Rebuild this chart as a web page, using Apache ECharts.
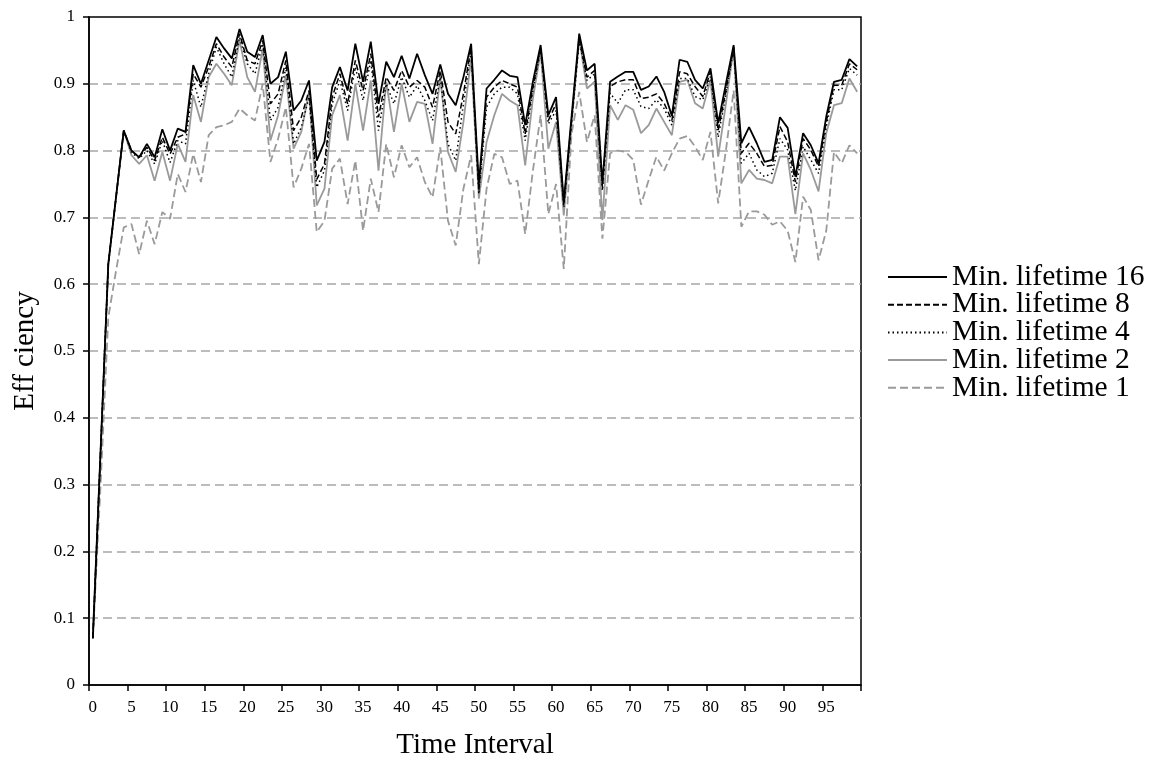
<!DOCTYPE html>
<html>
<head>
<meta charset="utf-8">
<script src="https://cdn.jsdelivr.net/npm/echarts@6/dist/echarts.min.js"></script>
<style>
html,body{margin:0;padding:0;background:#fff;}
#chart{width:1169px;height:766px;}
</style>
</head>
<body>
<div id="chart"></div>
<script>
var categories = ['0','1','2','3','4','5','6','7','8','9','10','11','12','13','14','15','16','17','18','19',
'20','21','22','23','24','25','26','27','28','29','30','31','32','33','34','35','36','37','38','39',
'40','41','42','43','44','45','46','47','48','49','50','51','52','53','54','55','56','57','58','59',
'60','61','62','63','64','65','66','67','68','69','70','71','72','73','74','75','76','77','78','79',
'80','81','82','83','84','85','86','87','88','89','90','91','92','93','94','95','96','97','98','99'];

var seriesNames = ['Min. lifetime 16','Min. lifetime 8','Min. lifetime 4','Min. lifetime 2','Min. lifetime 1'];

var life16 = [0.07,0.35,0.63,0.73,0.83,0.80,0.79,0.81,0.79,0.832,
0.80,0.833,0.828,0.928,0.90,0.935,0.97,0.953,0.938,0.982,
0.948,0.94,0.973,0.90,0.91,0.948,0.86,0.875,0.905,0.785,
0.813,0.895,0.925,0.89,0.96,0.903,0.963,0.87,0.933,0.91,
0.942,0.908,0.945,0.913,0.885,0.929,0.885,0.868,0.91,0.96,
0.75,0.893,0.906,0.92,0.912,0.91,0.838,0.903,0.958,0.853,
0.88,0.723,0.85,0.975,0.92,0.93,0.751,0.903,0.911,0.918,
0.918,0.891,0.896,0.911,0.888,0.852,0.936,0.933,0.906,0.893,
0.923,0.841,0.90,0.958,0.811,0.835,0.811,0.783,0.786,0.85,
0.834,0.761,0.826,0.808,0.781,0.851,0.903,0.906,0.937,0.926];

var life8 = [0.07,0.35,0.63,0.73,0.83,0.80,0.79,0.805,0.785,0.82,
0.795,0.82,0.825,0.915,0.895,0.925,0.96,0.94,0.925,0.975,
0.935,0.93,0.965,0.87,0.885,0.935,0.83,0.85,0.89,0.757,
0.78,0.88,0.915,0.87,0.935,0.89,0.945,0.85,0.91,0.89,
0.92,0.895,0.905,0.895,0.865,0.92,0.843,0.825,0.885,0.955,
0.74,0.88,0.895,0.905,0.90,0.895,0.825,0.895,0.955,0.845,
0.87,0.72,0.845,0.97,0.91,0.92,0.745,0.896,0.903,0.906,
0.906,0.878,0.88,0.885,0.871,0.845,0.918,0.915,0.896,0.881,
0.918,0.83,0.89,0.955,0.796,0.811,0.796,0.776,0.778,0.836,
0.813,0.753,0.818,0.801,0.776,0.843,0.898,0.898,0.93,0.921];

var life4 = [0.07,0.35,0.63,0.73,0.83,0.797,0.788,0.80,0.78,0.815,
0.782,0.815,0.81,0.905,0.865,0.915,0.955,0.93,0.91,0.97,
0.93,0.915,0.96,0.845,0.865,0.925,0.81,0.835,0.88,0.745,
0.77,0.87,0.905,0.86,0.925,0.875,0.935,0.83,0.90,0.87,
0.91,0.88,0.897,0.875,0.845,0.91,0.81,0.785,0.87,0.95,
0.735,0.865,0.885,0.895,0.895,0.885,0.815,0.89,0.95,0.84,
0.86,0.715,0.84,0.965,0.905,0.915,0.74,0.886,0.871,0.891,
0.891,0.866,0.863,0.876,0.863,0.838,0.908,0.908,0.881,0.876,
0.911,0.82,0.885,0.952,0.781,0.796,0.771,0.761,0.766,0.818,
0.801,0.74,0.806,0.786,0.766,0.836,0.891,0.891,0.923,0.913];

var life2 = [0.075,0.35,0.63,0.73,0.83,0.793,0.78,0.793,0.755,0.798,
0.755,0.81,0.783,0.883,0.843,0.91,0.93,0.915,0.898,0.965,
0.91,0.888,0.953,0.815,0.853,0.913,0.803,0.828,0.888,0.718,
0.743,0.853,0.883,0.815,0.90,0.83,0.905,0.77,0.903,0.828,
0.90,0.843,0.873,0.87,0.81,0.91,0.798,0.768,0.843,0.938,
0.728,0.813,0.853,0.885,0.875,0.868,0.778,0.878,0.948,0.803,
0.843,0.703,0.838,0.968,0.893,0.903,0.696,0.868,0.846,0.868,
0.861,0.826,0.838,0.863,0.843,0.823,0.903,0.906,0.871,0.863,
0.906,0.791,0.87,0.953,0.751,0.771,0.758,0.756,0.751,0.791,
0.791,0.705,0.796,0.771,0.739,0.826,0.868,0.871,0.908,0.888];

var life1 = [0.07,0.30,0.55,0.62,0.685,0.69,0.645,0.695,0.66,0.708,
0.698,0.765,0.738,0.795,0.753,0.823,0.835,0.838,0.843,0.863,
0.853,0.845,0.90,0.783,0.818,0.865,0.745,0.773,0.81,0.678,
0.695,0.773,0.788,0.72,0.785,0.68,0.758,0.708,0.81,0.76,
0.808,0.775,0.79,0.753,0.73,0.805,0.695,0.658,0.743,0.793,
0.63,0.743,0.795,0.79,0.75,0.755,0.675,0.77,0.853,0.705,
0.75,0.623,0.825,0.888,0.813,0.853,0.668,0.796,0.80,0.798,
0.786,0.719,0.756,0.791,0.77,0.796,0.818,0.822,0.806,0.786,
0.828,0.721,0.80,0.89,0.686,0.709,0.709,0.704,0.689,0.694,
0.68,0.633,0.731,0.711,0.636,0.68,0.798,0.781,0.808,0.796];

var FONT = "'Liberation Serif','Times New Roman',serif";

var chart = echarts.init(document.getElementById('chart'), null, {renderer:'canvas'});

function mk(name, data, color, width, type, z) {
  return {
    name: name, type: 'line', data: data, z: z,
    symbol: 'none', smooth: false,
    lineStyle: {color: color, width: width, type: type},
    itemStyle: {color: color},
    emphasis: {disabled: true},
    animation: false
  };
}

var option = {
  backgroundColor: '#fff',
  animation: false,
  grid: {left: 89, right: 308, top: 17, bottom: 81, show: true, borderColor: '#000', borderWidth: 1.5, backgroundColor: 'transparent'},
  legend: {
    orient: 'vertical', left: 882, top: 257,
    itemWidth: 59, itemHeight: 14, itemGap: -2.3,
    data: seriesNames,
    itemStyle: {opacity: 0},
    textStyle: {fontFamily: FONT, fontSize: 29.5, color: '#000'},
    selectedMode: false
  },
  xAxis: {
    type: 'category', data: categories, boundaryGap: true,
    name: 'Time Interval', nameLocation: 'middle', nameGap: 46,
    nameTextStyle: {fontFamily: FONT, fontSize: 29, color: '#000'},
    axisLine: {show: true, lineStyle: {color: '#000', width: 1.5}},
    axisTick: {show: true, interval: 4, length: 6, lineStyle: {color: '#000', width: 1.5}},
    axisLabel: {interval: 4, margin: 14, fontFamily: FONT, fontSize: 17, color: '#000'},
    splitLine: {show: false}
  },
  yAxis: {
    type: 'value', min: 0, max: 1, interval: 0.1,
    name: 'Eff ciency', nameLocation: 'middle', nameGap: 49, nameRotate: 90,
    nameTextStyle: {fontFamily: FONT, fontSize: 29, color: '#000'},
    axisLine: {show: true, lineStyle: {color: '#000', width: 1.5}},
    axisTick: {show: true, length: 6, lineStyle: {color: '#000', width: 1.5}},
    axisLabel: {margin: 14, fontFamily: FONT, fontSize: 17, color: '#000'},
    splitLine: {show: true, showMinLine: false, showMaxLine: false, lineStyle: {color: '#a6a6a6', width: 1.5, type: [9, 5]}}
  },
  series: [
    mk(seriesNames[0], life16, '#000000', 1.8, 'solid', 6),
    mk(seriesNames[1], life8, '#000000', 1.5, [6, 3], 5),
    mk(seriesNames[2], life4, '#000000', 1.5, [1.5, 3], 4),
    mk(seriesNames[3], life2, '#9a9a9a', 1.8, 'solid', 3),
    mk(seriesNames[4], life1, '#9a9a9a', 1.8, [8, 4], 2)
  ]
};
chart.setOption(option);
</script>
</body>
</html>
